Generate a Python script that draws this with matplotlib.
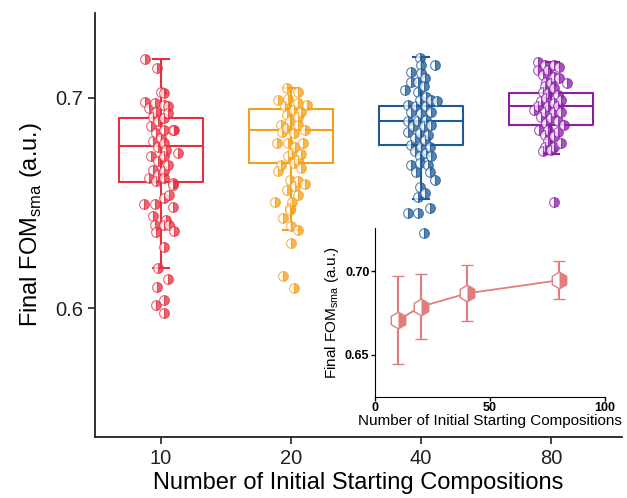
import matplotlib
matplotlib.use("Agg")
import matplotlib.pyplot as plt
import numpy as np

plt.rcParams['font.family'] = ['Liberation Sans', 'DejaVu Sans']

categories = ["10", "20", "40", "80"]
colors = ["#e4303f", "#f5a01a", "#1f5a96", "#8a1fa6"]

# individual final FOM values and horizontal jitter (category units)
fom_10 = [0.7185, 0.7141, 0.7030, 0.7025, 0.6980, 0.6976, 0.6967, 0.6953, 0.6959, 0.6935,
          0.6929, 0.6911, 0.6905, 0.6888, 0.6864, 0.6848, 0.6848, 0.6834, 0.6845, 0.6809,
          0.6793, 0.6785, 0.6769, 0.6754, 0.6738, 0.6722, 0.6722, 0.6698, 0.6682, 0.6659,
          0.6651, 0.6635, 0.6619, 0.6619, 0.6603, 0.6596, 0.6584, 0.6540, 0.6525, 0.6496,
          0.6496, 0.6483, 0.6441, 0.6422, 0.6395, 0.6395, 0.6395, 0.6364, 0.6366, 0.6291,
          0.6193, 0.6141, 0.6101, 0.6038, 0.6016, 0.5980]
jit_10 = [-0.12, -0.03, 0.00, 0.02, -0.12, -0.05, 0.02, -0.09, 0.05, -0.04,
          0.05, -0.06, 0.02, -0.02, -0.08, 0.02, 0.09, -0.04, 0.10, 0.00,
          -0.06, 0.02, -0.02, 0.04, 0.13, 0.02, -0.08, -0.02, 0.05, -0.06,
          0.02, -0.02, -0.09, 0.02, -0.04, 0.09, 0.09, 0.06, 0.02, -0.13,
          -0.05, 0.09, -0.06, 0.04, -0.05, 0.02, 0.06, -0.04, 0.10, 0.02,
          -0.02, 0.05, -0.03, 0.02, -0.04, 0.02]

fom_20 = [0.7046, 0.7030, 0.6991, 0.6994, 0.6975, 0.6967, 0.6959, 0.6943, 0.6935, 0.6919,
          0.6911, 0.6888, 0.6872, 0.6872, 0.6856, 0.6848, 0.6840, 0.6833, 0.6788, 0.6788,
          0.6785, 0.6769, 0.6738, 0.6735, 0.6722, 0.6706, 0.6690, 0.6682, 0.6667, 0.6651,
          0.6611, 0.6603, 0.6592, 0.6580, 0.6564, 0.6540, 0.6504, 0.6504, 0.6477, 0.6466,
          0.6430, 0.6393, 0.6371, 0.6311, 0.6153, 0.6098]
jit_20 = [-0.03, 0.05, -0.10, -0.02, 0.05, 0.12, -0.05, 0.02, 0.08, -0.03,
          0.05, -0.01, -0.08, 0.05, -0.03, 0.11, -0.07, 0.02, -0.11, -0.02,
          0.09, 0.03, 0.01, 0.08, -0.02, 0.05, 0.02, -0.08, 0.08, -0.10,
          -0.01, 0.05, 0.11, 0.03, -0.03, 0.05, -0.12, 0.01, -0.01, -0.01,
          -0.06, 0.00, 0.05, 0.00, -0.06, 0.02]

fom_40 = [0.7188, 0.7156, 0.7156, 0.7125, 0.7117, 0.7093, 0.7077, 0.7077, 0.7054, 0.7038,
          0.7030, 0.7006, 0.6991, 0.6967, 0.6991, 0.6983, 0.6959, 0.6959, 0.6935, 0.6927,
          0.6935, 0.6888, 0.6888, 0.6896, 0.6864, 0.6864, 0.6872, 0.6840, 0.6833, 0.6825,
          0.6809, 0.6801, 0.6777, 0.6769, 0.6769, 0.6746, 0.6738, 0.6722, 0.6722, 0.6682,
          0.6690, 0.6682, 0.6648, 0.6648, 0.6611, 0.6575, 0.6548, 0.6527, 0.6454, 0.6454,
          0.6477, 0.6359]
jit_40 = [-0.01, 0.11, 0.00, -0.08, 0.00, 0.03, -0.08, -0.02, 0.02, -0.12,
          -0.02, 0.04, -0.01, -0.10, 0.08, 0.12, -0.04, 0.04, -0.08, 0.00,
          0.08, -0.10, -0.02, 0.04, -0.06, 0.02, 0.08, -0.10, -0.01, 0.05,
          -0.05, 0.03, -0.08, 0.00, 0.07, -0.05, 0.04, -0.01, 0.08, -0.08,
          -0.01, 0.05, -0.04, 0.07, 0.11, -0.01, 0.03, -0.02, -0.10, -0.02,
          0.07, 0.02]

fom_80 = [0.7172, 0.7156, 0.7156, 0.7148, 0.7133, 0.7133, 0.7109, 0.7101, 0.7093, 0.7077,
          0.7070, 0.7070, 0.7054, 0.7046, 0.7030, 0.7022, 0.7014, 0.6998, 0.6991, 0.6983,
          0.6975, 0.6959, 0.6959, 0.6959, 0.6943, 0.6935, 0.6935, 0.6935, 0.6911, 0.6904,
          0.6888, 0.6880, 0.6872, 0.6848, 0.6848, 0.6840, 0.6825, 0.6817, 0.6793, 0.6785,
          0.6769, 0.6769, 0.6746, 0.6754, 0.6504]
jit_80 = [-0.10, -0.05, 0.02, 0.06, -0.10, -0.02, -0.06, 0.02, 0.06, -0.04,
          0.00, 0.12, -0.05, 0.02, -0.06, -0.02, 0.05, -0.04, 0.08, -0.08,
          0.02, -0.10, -0.02, 0.05, -0.13, -0.05, 0.02, 0.08, -0.08, 0.00,
          0.05, -0.04, 0.10, -0.09, -0.02, 0.05, -0.05, 0.02, -0.02, 0.08,
          -0.05, 0.02, -0.06, 0.00, 0.02]

# box statistics
whislo = [0.6193, 0.6374, 0.6520, 0.6735]
q1 = [0.6599, 0.6693, 0.6774, 0.6871]
med = [0.6773, 0.6848, 0.6888, 0.6959]
q3 = [0.6904, 0.6946, 0.6962, 0.7025]
whishi = [0.7185, 0.7046, 0.7193, 0.7169]

# inset data
n_init = [10, 20, 40, 80]
mean_fom = [0.6708, 0.6788, 0.6867, 0.6945]
err_hi = [0.6968, 0.6982, 0.7036, 0.7061]
err_lo = [0.6448, 0.6598, 0.6702, 0.6831]
inset_color = "#e27d7d"

fig = plt.figure(figsize=(6.27, 4.98), dpi=100)
ax = fig.add_axes([0.1515, 0.1225, 0.8405, 0.8515])

groups = [(fom_10, jit_10), (fom_20, jit_20), (fom_40, jit_40), (fom_80, jit_80)]
positions = np.arange(1, len(categories) + 1)

for i, pos in enumerate(positions):
    stats = [dict(whislo=whislo[i], q1=q1[i], med=med[i], q3=q3[i], whishi=whishi[i], fliers=[])]
    c = colors[i]
    ax.bxp(stats, positions=[pos], widths=0.65, showfliers=False, patch_artist=False,
           boxprops=dict(color=c, linewidth=1.5),
           medianprops=dict(color=c, linewidth=1.5),
           whiskerprops=dict(color=c, linewidth=1.5),
           capprops=dict(color=c, linewidth=1.5), capwidths=0.12)
    ax.vlines(pos, q1[i], q3[i], color=c, linewidth=1.5)
    vals, jit = groups[i]
    ax.plot(pos + np.array(jit), vals, linestyle='none', marker='o', markersize=7,
            fillstyle='right', color=c, markerfacecoloralt='white',
            markeredgecolor=c, markeredgewidth=0.8, alpha=0.75, zorder=3)

ax.set_xlim(0.492, 4.546)
ax.set_ylim(0.539, 0.7403)
ax.set_xticks(positions)
ax.set_xticklabels(categories)
ax.set_yticks([0.6, 0.7])
ax.set_yticklabels(["0.6", "0.7"])
ax.tick_params(axis='both', direction='out', length=5, width=1.2, labelsize=14.5, colors='#222222')
for s in ['top', 'right']:
    ax.spines[s].set_visible(False)
for s in ['left', 'bottom']:
    ax.spines[s].set_linewidth(1.3)
    ax.spines[s].set_color('#222222')
ax.set_xlabel("Number of Initial Starting Compositions", fontsize=17, labelpad=3)
ax.set_ylabel("Final FOM$_{\\mathregular{sma}}$ (a.u.)", fontsize=17, labelpad=8)

# inset
axi = fig.add_axes([0.598, 0.203, 0.367, 0.339])
axi.errorbar(n_init, mean_fom,
             yerr=[np.array(mean_fom) - np.array(err_lo), np.array(err_hi) - np.array(mean_fom)],
             color=inset_color, linewidth=1.3, elinewidth=1.5, capsize=4, capthick=1.5,
             marker='h', markersize=12, fillstyle='right', markerfacecoloralt='white',
             markeredgecolor=inset_color, markeredgewidth=1.0)
axi.set_xlim(0, 100)
axi.set_ylim(0.625, 0.7256)
axi.set_xticks([0, 50, 100])
axi.set_yticks([0.65, 0.70])
axi.set_yticklabels(["0.65", "0.70"])
axi.tick_params(axis='both', direction='out', length=3, width=1, labelsize=9, pad=1)
for lab in axi.get_xticklabels() + axi.get_yticklabels():
    lab.set_fontweight('bold')
for s in ['top', 'right']:
    axi.spines[s].set_visible(False)
axi.set_xlabel("Number of Initial Starting Compositions", fontsize=11, labelpad=0)
axi.set_ylabel("Final FOM$_{\\mathregular{sma}}$ (a.u.)", fontsize=11, labelpad=3)
axi.patch.set_alpha(0)

fig.savefig("out.png", dpi=100)
